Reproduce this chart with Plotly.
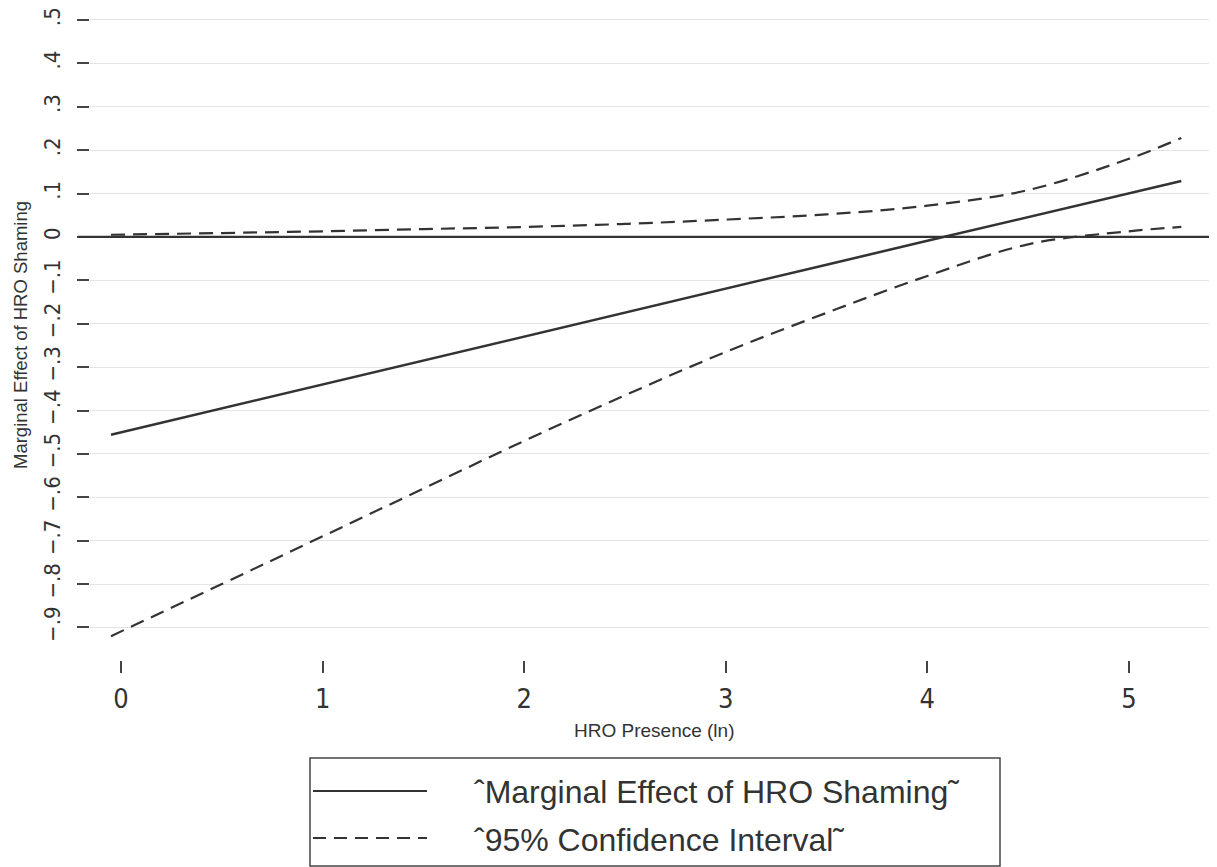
import plotly.graph_objects as go

# Data
x_vals = [-0.05, 0.5, 1, 1.5, 2, 2.5, 3, 3.5, 4, 4.5, 5, 5.26]
marginal = [-0.456, -0.395, -0.340, -0.285, -0.229, -0.174, -0.119, -0.064, -0.009, 0.046, 0.100, 0.129]
upper_ci = [0.005, 0.009, 0.013, 0.018, 0.023, 0.030, 0.040, 0.052, 0.072, 0.108, 0.180, 0.228]
lower_ci = [-0.920, -0.800, -0.690, -0.580, -0.470, -0.365, -0.265, -0.175, -0.090, -0.017, 0.013, 0.023]
ref_line_y = 0

x_ticks = [0, 1, 2, 3, 4, 5]
y_ticks = [-0.9, -0.8, -0.7, -0.6, -0.5, -0.4, -0.3, -0.2, -0.1, 0, 0.1, 0.2, 0.3, 0.4, 0.5]
y_tick_labels = ["\u2212.9", "\u2212.8", "\u2212.7", "\u2212.6", "\u2212.5", "\u2212.4", "\u2212.3",
                 "\u2212.2", "\u2212.1", "0", ".1", ".2", ".3", ".4", ".5"]

legend_labels = ["\u02c6Marginal Effect of HRO Shaming\u02dc", "\u02c695% Confidence Interval\u02dc"]
x_title = "HRO Presence (ln)"
y_title = "Marginal Effect of HRO Shaming"

# page has an 8px body margin; figure placed at (8, 8)
OFF = 8
W, H = 1209, 859
ML, MR, MT, MB = 82, 0, 0, 207
PW, PH = W - ML - MR, H - MT - MB

line_col = "#333333"
text_col = "#333333"
font_fam = "Liberation Sans, Arial, sans-serif"
tick_fam = "Liberation Sans Narrow, Arial Narrow, DejaVu Sans Condensed, sans-serif"
dash = "14px,8px"

fig = go.Figure()
fig.add_trace(go.Scatter(x=x_vals, y=marginal, mode="lines",
                         line=dict(color=line_col, width=2.5), name=legend_labels[0]))
fig.add_trace(go.Scatter(x=x_vals, y=upper_ci, mode="lines", line_shape="spline",
                         line=dict(color=line_col, width=2.2, dash=dash), name=legend_labels[1]))
fig.add_trace(go.Scatter(x=x_vals, y=lower_ci, mode="lines", line_shape="spline",
                         line=dict(color=line_col, width=2.2, dash=dash), showlegend=False))

def px_x(px):
    return (px - OFF - ML) / PW

def px_y(py):
    return (H - MB - (py - OFF)) / PH

shapes = []
# horizontal reference line at 0 (extends through the tick area)
shapes.append(dict(type="line", xref="paper", yref="y",
                   x0=px_x(78), x1=1, y0=ref_line_y, y1=ref_line_y,
                   line=dict(color="#333333", width=2.2), layer="above"))
# legend box
shapes.append(dict(type="rect", xref="paper", yref="paper",
                   x0=px_x(310), x1=px_x(1000), y0=px_y(866), y1=px_y(758),
                   line=dict(color="#444444", width=1.5), fillcolor="white"))
shapes.append(dict(type="line", xref="paper", yref="paper",
                   x0=px_x(313), x1=px_x(427), y0=px_y(791), y1=px_y(791),
                   line=dict(color=line_col, width=2.2)))
shapes.append(dict(type="line", xref="paper", yref="paper",
                   x0=px_x(313), x1=px_x(427), y0=px_y(838), y1=px_y(838),
                   line=dict(color=line_col, width=2, dash="13px,8px")))

annotations = [
    dict(text=legend_labels[0], xref="paper", yref="paper", x=px_x(472), y=px_y(792),
         xanchor="left", yanchor="middle", showarrow=False,
         font=dict(size=32, color=text_col, family=font_fam)),
    dict(text=legend_labels[1], xref="paper", yref="paper", x=px_x(472), y=px_y(840),
         xanchor="left", yanchor="middle", showarrow=False,
         font=dict(size=32, color=text_col, family=font_fam)),
    dict(text=x_title, xref="paper", yref="paper", x=px_x(654), y=px_y(730),
         xanchor="center", yanchor="middle", showarrow=False,
         font=dict(size=19, color=text_col, family=font_fam)),
    dict(text=y_title, xref="paper", yref="paper", x=px_x(20), y=px_y(335),
         xanchor="center", yanchor="middle", showarrow=False, textangle=-90,
         font=dict(size=18.5, color=text_col, family=font_fam)),
]

fig.update_layout(
    width=W, height=H,
    margin=dict(l=ML, r=MR, t=MT, b=MB),
    paper_bgcolor="white", plot_bgcolor="white",
    showlegend=False,
    shapes=shapes, annotations=annotations,
    font=dict(family=font_fam, color=text_col),
)
fig.update_xaxes(
    range=[-0.154, 5.437], tickvals=x_ticks, ticktext=[str(t) for t in x_ticks],
    ticks="outside", ticklen=12, tickwidth=1.5, tickcolor="#444444",
    tickfont=dict(size=27, color=text_col, family=tick_fam), ticklabelstandoff=3,
    showgrid=False, zeroline=False, showline=False, automargin=False,
)
fig.update_yaxes(
    range=[-0.975, 0.5276], tickvals=y_ticks, ticktext=y_tick_labels, tickangle=-90,
    ticks="outside", ticklen=12, tickwidth=1.5, tickcolor="#444444",
    tickfont=dict(size=22, color=text_col, family=tick_fam), ticklabelstandoff=8,
    ticklabeloverflow="allow",
    showgrid=True, gridcolor="#e4e4e4", gridwidth=1,
    zeroline=False, showline=False, automargin=False,
)

fig.write_html("out.html")
